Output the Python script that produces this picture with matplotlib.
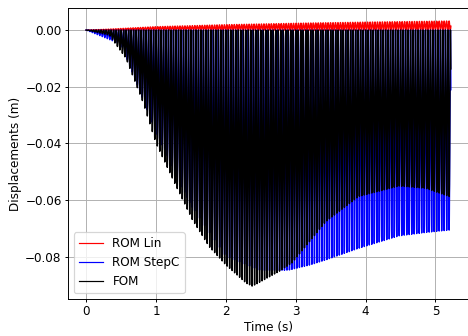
import numpy as np
import matplotlib
matplotlib.use('Agg')
import matplotlib.pyplot as plt

# envelope knots (time in s, displacement in m)
fom_t = [0.0, 0.33, 0.57, 0.81, 1.0, 1.29, 1.52, 1.76, 2.0, 2.29, 2.38, 2.76, 2.95, 3.43, 3.9, 4.48, 4.86, 5.22]
fom_low = [0.0, -0.0018, -0.010, -0.0253, -0.040, -0.0553, -0.067, -0.0765, -0.083, -0.0894,
           -0.0905, -0.0853, -0.0822, -0.0677, -0.0588, -0.0551, -0.0559, -0.0590]

stepc_t = [0.0, 0.5, 1.0, 1.5, 2.0, 2.5, 2.9, 3.2, 3.43, 3.9, 4.48, 4.86, 5.22]
stepc_low = [0.0, -0.005, -0.036, -0.062, -0.080, -0.085, -0.0848, -0.083, -0.0812,
             -0.0771, -0.0727, -0.0715, -0.0706]

lin_t = [0.0, 0.3, 1.0, 2.0, 3.0, 4.0, 5.22]
lin_high = [0.0, 0.0003, 0.0012, 0.0019, 0.0024, 0.0028, 0.0032]

# oscillation frequencies (Hz), estimated from peak spacing
f_fom = 28.0
f_stepc = 28.0
f_lin = 28.3

t_end = 5.22
dt = 0.0005
t = np.arange(0, t_end + dt, dt)


def oscillate(knot_t, lo, hi, f, phase=0.0):
    lo = np.interp(t, knot_t, lo)
    hi = np.interp(t, knot_t, hi)
    return lo + (hi - lo) * 0.5 * (1 + np.cos(2 * np.pi * f * t + phase))


y_lin = oscillate(lin_t, np.zeros(len(lin_t)), lin_high, f_lin)
y_stepc = oscillate(stepc_t, stepc_low, np.zeros(len(stepc_t)), f_stepc, 0.15)
y_fom = oscillate(fom_t, fom_low, np.zeros(len(fom_t)), f_fom)

DPI = 86.5
plt.rcParams['xtick.major.size'] = 2.8
plt.rcParams['ytick.major.size'] = 2.8
plt.rcParams['xtick.major.pad'] = 2.5
plt.rcParams['ytick.major.pad'] = 2.5
plt.rcParams['axes.labelpad'] = 2.5

fig = plt.figure(figsize=(468 / DPI, 336 / DPI), dpi=DPI)
ax = fig.add_axes([68 / 468, 1 - 299 / 336, (469 - 68) / 468, (299 - 8) / 336])

ax.plot(t, y_lin, color='red', lw=1.2, label='ROM Lin')
ax.plot(t, y_stepc, color='blue', lw=1.2, label='ROM StepC')
ax.plot(t, y_fom, color='black', lw=1.2, label='FOM')

ax.set_xlim(-0.26, 5.48)
ax.set_ylim(-0.0950, 0.0078)
ax.set_xticks([0, 1, 2, 3, 4, 5])
ax.set_yticks([0.0, -0.02, -0.04, -0.06, -0.08])
ax.grid(True)
ax.set_xlabel('Time (s)')
ax.set_ylabel('Displacements (m)')
leg = ax.legend(loc='lower left')
for line in leg.get_lines():
    line.set_linewidth(1.0)

fig.savefig('out.png', dpi=DPI)
